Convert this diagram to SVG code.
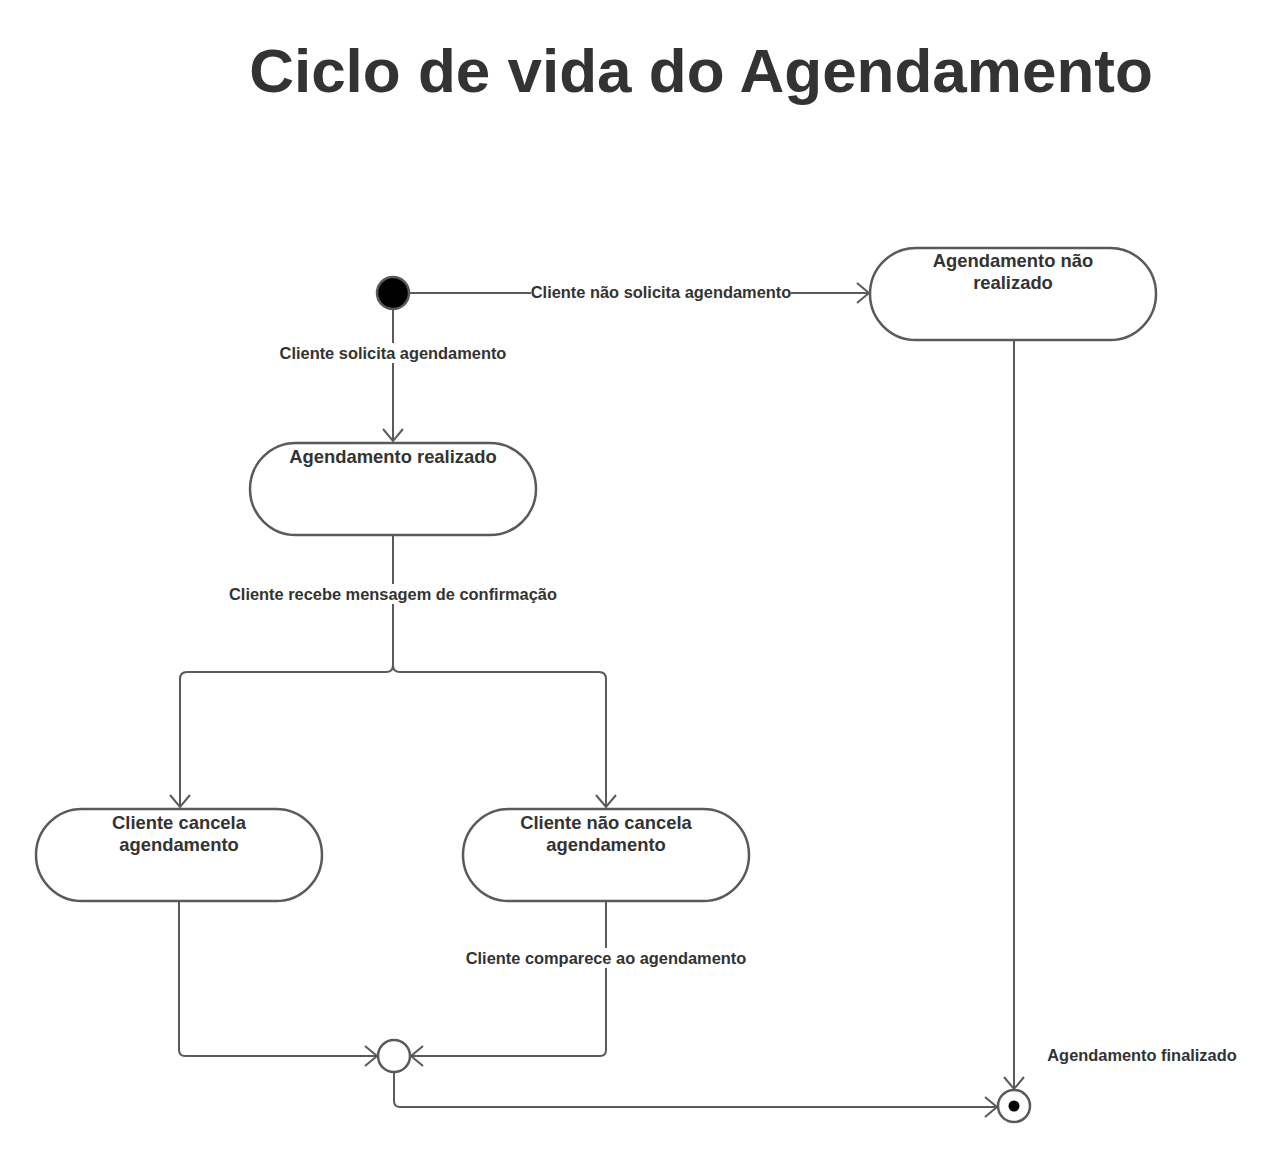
<svg xmlns="http://www.w3.org/2000/svg" width="1280" height="1159" viewBox="0 0 1280 1159">
<style>
.st{fill:#fff;stroke:#5a5a5a;stroke-width:2.5}
.ln{fill:none;stroke:#5a5a5a;stroke-width:2}
.nt{font-family:"Liberation Sans",Arial,sans-serif;font-weight:bold;font-size:18.4px;fill:#333;text-anchor:middle}
.lb{font-family:"Liberation Sans",Arial,sans-serif;font-weight:bold;font-size:16.4px;fill:#333;text-anchor:middle}
.bg{fill:#fff}
</style>
<defs>
<marker id="ar" markerWidth="16" markerHeight="24" refX="14" refY="12" orient="auto" markerUnits="userSpaceOnUse">
<path d="M2,2 L14,12 L2,22" fill="none" stroke="#5a5a5a" stroke-width="2"/>
</marker>
</defs>
<rect width="1280" height="1159" fill="#fff"/>
<text x="701" y="92" font-family="'Liberation Sans',Arial,sans-serif" font-weight="bold" font-size="62" fill="#333" text-anchor="middle">Ciclo de vida do Agendamento</text>
<g id="connectors">
<path class="ln" d="M410,293 H869" marker-end="url(#ar)"/>
<path class="ln" d="M393,310 V441" marker-end="url(#ar)"/>
<path class="ln" d="M393,536 V665 Q393,672 386,672 H187 Q180,672 180,679 V807" marker-end="url(#ar)"/>
<path class="ln" d="M393,665 Q393,672 400,672 H599 Q606,672 606,679 V807" marker-end="url(#ar)"/>
<path class="ln" d="M179,902 V1050 Q179,1056 185,1056 H377" marker-end="url(#ar)"/>
<path class="ln" d="M606,902 V1050 Q606,1056 600,1056 H411" marker-end="url(#ar)"/>
<path class="ln" d="M394,1072 V1101 Q394,1107 400,1107 H997" marker-end="url(#ar)"/>
<path class="ln" d="M1014,341 V1089" marker-end="url(#ar)"/>
<rect class="bg" x="531" y="283" width="260" height="18"/>
<text class="lb" x="661" y="298">Cliente não solicita agendamento</text>
<rect class="bg" x="276" y="343" width="235" height="20"/>
<text class="lb" x="393" y="359">Cliente solicita agendamento</text>
<rect class="bg" x="224" y="584" width="338" height="20"/>
<text class="lb" x="393" y="600">Cliente recebe mensagem de confirmação</text>
<rect class="bg" x="461" y="948" width="290" height="20"/>
<text class="lb" x="606" y="964">Cliente comparece ao agendamento</text>
<text class="lb" x="1142" y="1061">Agendamento finalizado</text>
</g>
<g id="start"><circle cx="393" cy="293" r="16" fill="#000" stroke="#5a5a5a" stroke-width="2.5"/></g>
<g id="naoRealizado">
<rect class="st" x="870" y="248" width="286" height="92" rx="46"/>
<text class="nt" x="1013" y="267">Agendamento não</text>
<text class="nt" x="1013" y="289">realizado</text>
</g>
<g id="realizado">
<rect class="st" x="250" y="443" width="286" height="92" rx="46"/>
<text class="nt" x="393" y="463">Agendamento realizado</text>
</g>
<g id="cancela">
<rect class="st" x="36" y="809" width="286" height="92" rx="46"/>
<text class="nt" x="179" y="829">Cliente cancela</text>
<text class="nt" x="179" y="851">agendamento</text>
</g>
<g id="naoCancela">
<rect class="st" x="463" y="809" width="286" height="92" rx="46"/>
<text class="nt" x="606" y="829">Cliente não cancela</text>
<text class="nt" x="606" y="851">agendamento</text>
</g>
<g id="merge"><circle cx="394" cy="1056" r="16" fill="#fff" stroke="#5a5a5a" stroke-width="2.5"/></g>
<g id="final">
<circle cx="1014" cy="1106" r="16" fill="#fff" stroke="#5a5a5a" stroke-width="2.5"/>
<circle cx="1014" cy="1106" r="5.5" fill="#000"/>
</g>
</svg>
